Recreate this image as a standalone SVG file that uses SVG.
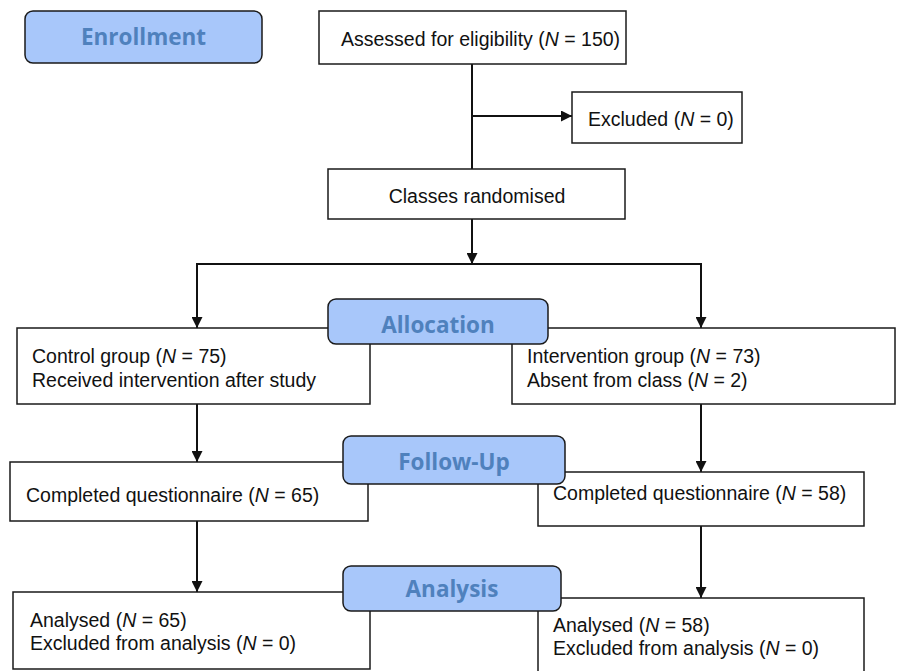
<svg xmlns="http://www.w3.org/2000/svg" width="898" height="671" viewBox="0 0 898 671">
<style>
.box{fill:#fff;stroke:#1a1a1a;stroke-width:1.5}
.stage{fill:#a8c7fa;stroke:#1a1a1a;stroke-width:1.5}
.stxt{font-family:"Open Sans","Noto Sans",sans-serif;font-weight:bold;font-size:22.5px;fill:#4f81bd;text-anchor:middle}
.t{font-family:"Liberation Sans",Arial,sans-serif;font-size:19.5px;fill:#111}
.c{text-anchor:middle}
.i{font-style:italic}
.ln{fill:none;stroke:#111;stroke-width:2}
</style>
<defs>
<marker id="ah" viewBox="0 0 11 11" refX="11" refY="5.5" markerWidth="11" markerHeight="11" markerUnits="userSpaceOnUse" orient="auto">
<path d="M0,0 L11,5.5 L0,11 Z" fill="#111"/>
</marker>
</defs>
<g id="connectors">
<line class="ln" x1="472" y1="64" x2="472" y2="169"/>
<line class="ln" x1="472" y1="116" x2="572" y2="116" marker-end="url(#ah)"/>
<line class="ln" x1="472" y1="219" x2="472" y2="264" marker-end="url(#ah)"/>
<polyline class="ln" points="197,328 197,264 701,264 701,328"/>
<line class="ln" x1="197" y1="300" x2="197" y2="328" marker-end="url(#ah)"/>
<line class="ln" x1="701" y1="300" x2="701" y2="328" marker-end="url(#ah)"/>
<line class="ln" x1="197" y1="404" x2="197" y2="462" marker-end="url(#ah)"/>
<line class="ln" x1="701" y1="404" x2="701" y2="472" marker-end="url(#ah)"/>
<line class="ln" x1="197" y1="521" x2="197" y2="592" marker-end="url(#ah)"/>
<line class="ln" x1="701" y1="526" x2="701" y2="598" marker-end="url(#ah)"/>
</g>
<g id="assessed">
<rect class="box" x="319" y="11" width="307" height="53"/>
<text class="t" x="341" y="46">Assessed for eligibility (<tspan class="i">N</tspan> = 150)</text>
</g>
<g id="excluded">
<rect class="box" x="572" y="92" width="170" height="51"/>
<text class="t" x="588" y="126">Excluded (<tspan class="i">N</tspan> = 0)</text>
</g>
<g id="randomised">
<rect class="box" x="328" y="169" width="297" height="50"/>
<text class="t c" x="477" y="203">Classes randomised</text>
</g>
<g id="control">
<rect class="box" x="17" y="328" width="353" height="76"/>
<text class="t" x="32" y="363">Control group (<tspan class="i">N</tspan> = 75)</text>
<text class="t" x="32" y="387">Received intervention after study</text>
</g>
<g id="intervention">
<rect class="box" x="512" y="328" width="383" height="76"/>
<text class="t" x="527" y="363">Intervention group (<tspan class="i">N</tspan> = 73)</text>
<text class="t" x="527" y="387">Absent from class (<tspan class="i">N</tspan> = 2)</text>
</g>
<g id="completed-control">
<rect class="box" x="10" y="462" width="358" height="59"/>
<text class="t" x="26" y="502">Completed questionnaire (<tspan class="i">N</tspan> = 65)</text>
</g>
<g id="completed-intervention">
<rect class="box" x="538" y="472" width="326" height="54"/>
<text class="t" x="553" y="500">Completed questionnaire (<tspan class="i">N</tspan> = 58)</text>
</g>
<g id="analysed-control">
<rect class="box" x="13" y="592" width="357" height="77"/>
<text class="t" x="30" y="627">Analysed (<tspan class="i">N</tspan> = 65)</text>
<text class="t" x="30" y="650">Excluded from analysis (<tspan class="i">N</tspan> = 0)</text>
</g>
<g id="analysed-intervention">
<rect class="box" x="538" y="598" width="326" height="80"/>
<text class="t" x="553" y="632">Analysed (<tspan class="i">N</tspan> = 58)</text>
<text class="t" x="553" y="655">Excluded from analysis (<tspan class="i">N</tspan> = 0)</text>
</g>
<g id="stage-enrollment">
<rect class="stage" x="25" y="11" width="237" height="52" rx="8"/>
<text class="stxt" x="143.5" y="45">Enrollment</text>
</g>
<g id="stage-allocation">
<rect class="stage" x="328" y="299" width="220" height="45" rx="8"/>
<text class="stxt" x="438" y="333">Allocation</text>
</g>
<g id="stage-followup">
<rect class="stage" x="343" y="436" width="222" height="48" rx="8"/>
<text class="stxt" x="454" y="470">Follow-Up</text>
</g>
<g id="stage-analysis">
<rect class="stage" x="343" y="566" width="218" height="45" rx="8"/>
<text class="stxt" x="452" y="597">Analysis</text>
</g>
</svg>
